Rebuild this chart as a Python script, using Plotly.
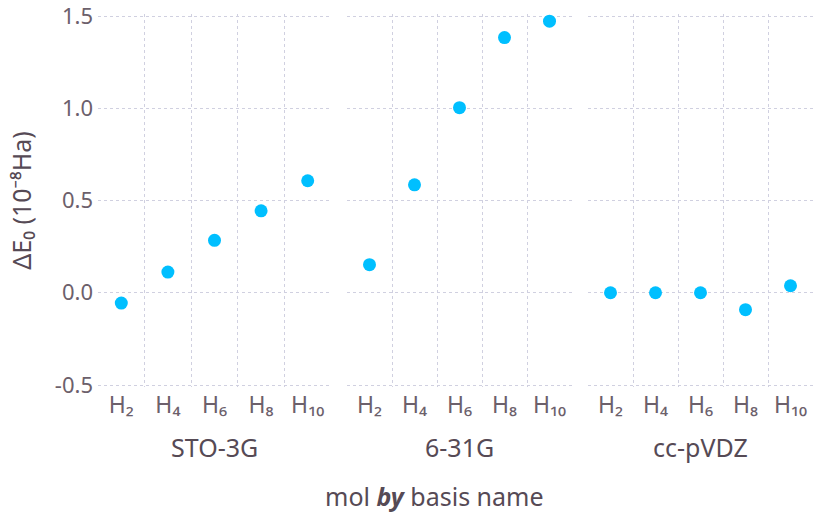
import plotly.graph_objects as go

molecules = ["H₂", "H₄", "H₆", "H₈", "H₁₀"]
basis_names = ["STO-3G", "6-31G", "cc-pVDZ"]
delta_sto3g = [-0.056, 0.112, 0.284, 0.444, 0.607]
delta_631g = [0.152, 0.585, 1.003, 1.383, 1.472]
delta_ccpvdz = [0.0, 0.0, 0.0, -0.092, 0.038]
y_ticks = [-0.5, 0.0, 0.5, 1.0, 1.5]
y_ticktext = ["-0.5", "0.0", "0.5", "1.0", "1.5"]

series = [delta_sto3g, delta_631g, delta_ccpvdz]

W, H = 822, 514
FONT = "Noto Sans"
TICK_C = "#6c606b"
LAB_C = "#564a55"
GRID_C = "#D0D0E0"
domains_px = [(98, 331), (347, 572), (588, 813)]
T, B = 14, 127          # plot area padded 2px each side so edge gridlines are kept
PAD = 2 / 184.5         # 2px in data units

fig = go.Figure()
xpos = list(range(1, len(molecules) + 1))
for i, vals in enumerate(series):
    sfx = "" if i == 0 else str(i + 1)
    fig.add_trace(go.Scatter(
        x=xpos, y=vals, mode="markers",
        marker=dict(color="#00BFFF", size=13, line=dict(width=0)),
        xaxis="x" + sfx, yaxis="y" + sfx, showlegend=False,
    ))
    d = domains_px[i]
    fig.layout["xaxis" + sfx] = dict(
        domain=[d[0] / W, d[1] / W], range=[0.5, len(molecules) + 0.5],
        tickmode="array", tickvals=xpos, ticktext=molecules,
        showgrid=False, zeroline=False, showline=False, ticks="",
        tickfont=dict(family=FONT, size=23, color=TICK_C),
        minor=dict(tickmode="array", tickvals=[1.5, 2.5, 3.5, 4.5],
                   showgrid=True, gridcolor=GRID_C, griddash="dot", gridwidth=1, ticks=""),
        anchor="y" + sfx, ticklabelstandoff=2,
    )
    yax = dict(
        domain=[0, 1], range=[-0.5 - PAD, 1.5 + PAD],
        tickmode="array", tickvals=y_ticks, ticktext=y_ticktext,
        showgrid=True, gridcolor=GRID_C, griddash="dot", gridwidth=1,
        zeroline=False, showline=False, ticks="",
        tickfont=dict(family=FONT, size=22, color=TICK_C),
        showticklabels=(i == 0), anchor="x" + sfx, ticklabelstandoff=4,
        ticklabeloverflow="allow",
    )
    if i == 0:
        yax["title"] = dict(text="ΔE₀ (10⁻⁸Ha)", font=dict(family=FONT, size=25, color=LAB_C), standoff=16)
    fig.layout["yaxis" + sfx] = yax
    fig.add_annotation(
        x=(d[0] + d[1]) / 2 / W, y=(H - 447 - B) / (H - T - B),
        xref="paper", yref="paper", text=basis_names[i], showarrow=False,
        font=dict(family=FONT, size=25, color=LAB_C), xanchor="center", yanchor="middle",
    )

fig.add_annotation(
    x=434 / W, y=(H - 496 - B) / (H - T - B), xref="paper", yref="paper",
    text="mol <b><i>by</i></b> basis name", showarrow=False,
    font=dict(family=FONT, size=25, color=LAB_C), xanchor="center", yanchor="middle",
)

fig.update_layout(
    width=W, height=H, margin=dict(l=0, r=0, t=T, b=B, autoexpand=False),
    paper_bgcolor="white", plot_bgcolor="white",
)
fig.write_html(
    "out.html",
    config={"displayModeBar": False},
    post_script="document.body.style.margin='0';document.body.style.overflow='hidden';",
)
